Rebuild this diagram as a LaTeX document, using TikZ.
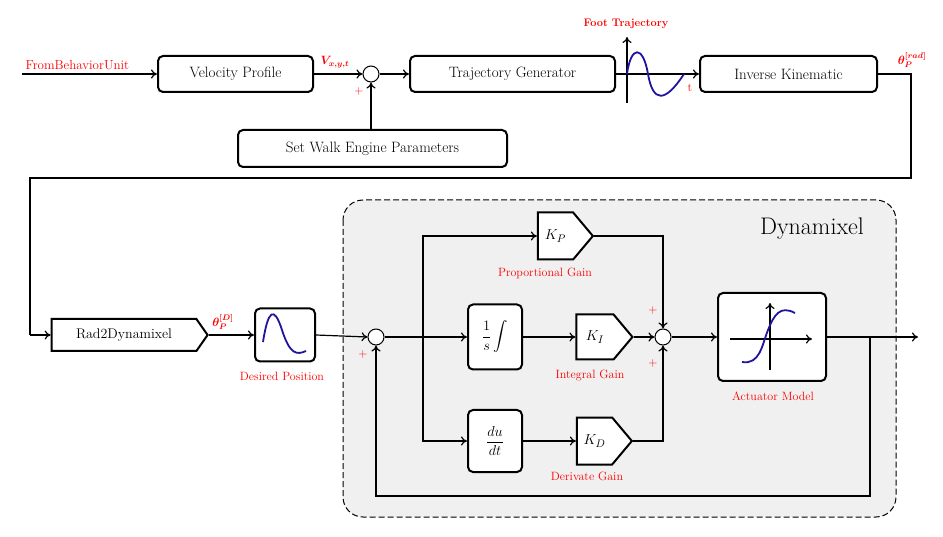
\documentclass[tikz,border=0pt]{standalone}
\usepackage{amsmath,bm}
\usepackage{fontspec}
\usetikzlibrary{shapes.symbols,arrows.meta}
\begin{document}
\begin{tikzpicture}[x=1pt,y=-1pt,
  blk/.style={draw,line width=2pt,rounded corners=5pt,fill=white,font=\fontsize{15}{17}\selectfont,inner sep=0pt},
  gain/.style={draw,line width=2pt,shape=signal,signal to=east,signal pointer angle=100,fill=white,inner sep=0pt,font=\fontsize{15}{17}\selectfont},
  sumc/.style={draw,circle,line width=1pt,fill=white,minimum size=16pt,inner sep=0pt},
  lab/.style={text=red,font=\fontsize{12}{14}\selectfont},
  con/.style={line width=1.2pt,-{To[length=6pt,width=9pt]}},
  ln/.style={line width=1.2pt},
  wave/.style={line width=1.8pt,draw={rgb,255:red,30;green,20;blue,160}}]
\useasboundingbox (0,0) rectangle (943,537);
% container
\draw[dash pattern=on 6pt off 3pt,line width=1pt,rounded corners=20pt,fill=black!6] (343,200) rectangle (896,517);
\node[font=\fontsize{24}{26}\selectfont] (dynlab) at (812,229) {Dynamixel};
% top row
\coordinate (in) at (22,74);
\node[blk,minimum width=155pt,minimum height=36pt] (vp) at (235.5,74) {Velocity Profile};
\node[lab,anchor=south west,font=\fontsize{13}{15}\selectfont] (fbu) at (22,73) {FromBehaviorUnit};
\node[sumc] (s1) at (371,74) {};
\node[blk,minimum width=205pt,minimum height=36pt] (tg) at (512.5,74) {Trajectory Generator};
\node[blk,minimum width=269pt,minimum height=37pt] (sw) at (372.5,148.5) {Set Walk Engine Parameters};
\node[blk,minimum width=177pt,minimum height=36pt] (ik) at (788.5,74) {Inverse Kinematic};
\draw[con] (in) -- (vp.west);
\draw[con] (vp.east) -- (s1.west);
\node[lab] (vl) at (335,62) {$\bm{V_{x,y,t}}$};
\node[lab] (p1) at (359,92) {+};
\draw[con] (sw.north -| s1) -- (s1.south);
\draw[con] (s1.east) -- (tg.west);
% foot trajectory
\coordinate (ax0) at (627,103);
\coordinate (ax1) at (627,37);
\draw[line width=1.2pt,-{To[length=6pt,width=9pt]}] (ax0) -- (ax1);
\draw[con] (tg.east) -- (ik.west);
\draw[wave] (627,74) .. controls (631,45) and (643,45) .. (648,74) .. controls (653,103) and (665,103) .. (684,74);
\node[lab,font=\fontsize{11}{13}\selectfont] (ft) at (626,24) {\bfseries Foot Trajectory};
\node[lab,font=\fontsize{12}{14}\selectfont] (tl) at (690,88) {t};
\node[lab] (th1) at (912,60) {$\bm{\theta_P}^{\bm{[rad]}}$};
% second row
\node[gain,signal pointer angle=110,minimum width=156pt,minimum height=32pt,font=\fontsize{14}{16}\selectfont] (r2d) at (124,335) {Rad2Dynamixel};
\coordinate (c1) at (911,74);
\coordinate (c2) at (911,178);
\coordinate (c3) at (30,178);
\coordinate (c4) at (30,335);
\draw[ln] (ik.east) -- (c1) -- (c2) -- (c3) -- (c4);
\draw[con] (c4) -- (r2d.west);
\node[lab] (th2) at (223,322) {$\bm{\theta_P}^{\bm{[D]}}$};
\node[blk,minimum width=60pt,minimum height=53pt] (dp) at (285,335) {};
\draw[wave] (263,342) .. controls (268,310) and (274,305) .. (282,330) .. controls (290,355) and (297,355) .. (306,351);
\node[lab] (dpl) at (282,376) {Desired Position};
\draw[con] (r2d.east) -- (dp.west);
\node[sumc] (s2) at (376,337) {};
\node[lab] (p2) at (363,355) {+};
\draw[con] (dp.east) -- (s2.west);
\node[blk,minimum width=54pt,minimum height=65pt] (int) at (495,337) {$\displaystyle\frac{1}{s}\int$};
\node[blk,minimum width=54pt,minimum height=62pt] (der) at (495,441) {$\displaystyle\frac{du}{dt}$};
\node[gain,minimum width=55pt,minimum height=47pt] (kp) at (555.5,236) {$K_P$};
\node[gain,minimum width=56pt,minimum height=45pt] (ki) at (595,337) {$K_I$};
\node[gain,minimum width=55pt,minimum height=47pt] (kd) at (594.5,441) {$K_D$};
\node[lab] (kpl) at (545,273) {Proportional Gain};
\node[lab] (kil) at (590,376) {Integral Gain};
\node[lab] (kdl) at (587,476) {Derivate Gain};
\node[sumc] (s3) at (663,337) {};
\node[lab] (p3) at (653,311) {+};
\node[lab] (p4) at (653,364) {+};
\coordinate (br) at (423,337);
\draw[con] (s2.east) -- (int.west);
\draw[con] (br) |- (kp.west);
\draw[con] (br) |- (der.west);
\draw[con] (int.east) -- (ki.west);
\draw[con] (der.east) -- (kd.west);
\draw[con] (kp.east) -| (s3.north);
\draw[con] (kd.east) -| (s3.south);
\draw[con] (ki.east) -- (s3.west);
\node[blk,minimum width=108pt,minimum height=88pt] (act) at (772,337) {};
\draw[line width=1.2pt,-{To[length=6pt,width=9pt]}] (770,370) -- (770,303);
\draw[line width=1.2pt,-{To[length=6pt,width=9pt]}] (730,339) -- (812,339);
\draw[wave] (742,362) .. controls (760,365) and (762,345) .. (768,330) .. controls (774,315) and (780,305) .. (795,313);
\node[lab] (actl) at (773,396) {Actuator Model};
\draw[con] (s3.east) -- (act.west);
\coordinate (out) at (918,337);
\draw[con] (act.east |- out) -- (out);
\coordinate (fb1) at (870,337);
\coordinate (fb2) at (870,496);
\draw[con] (fb1) -- (fb2) -| (s2.south);
\end{tikzpicture}
\end{document}
